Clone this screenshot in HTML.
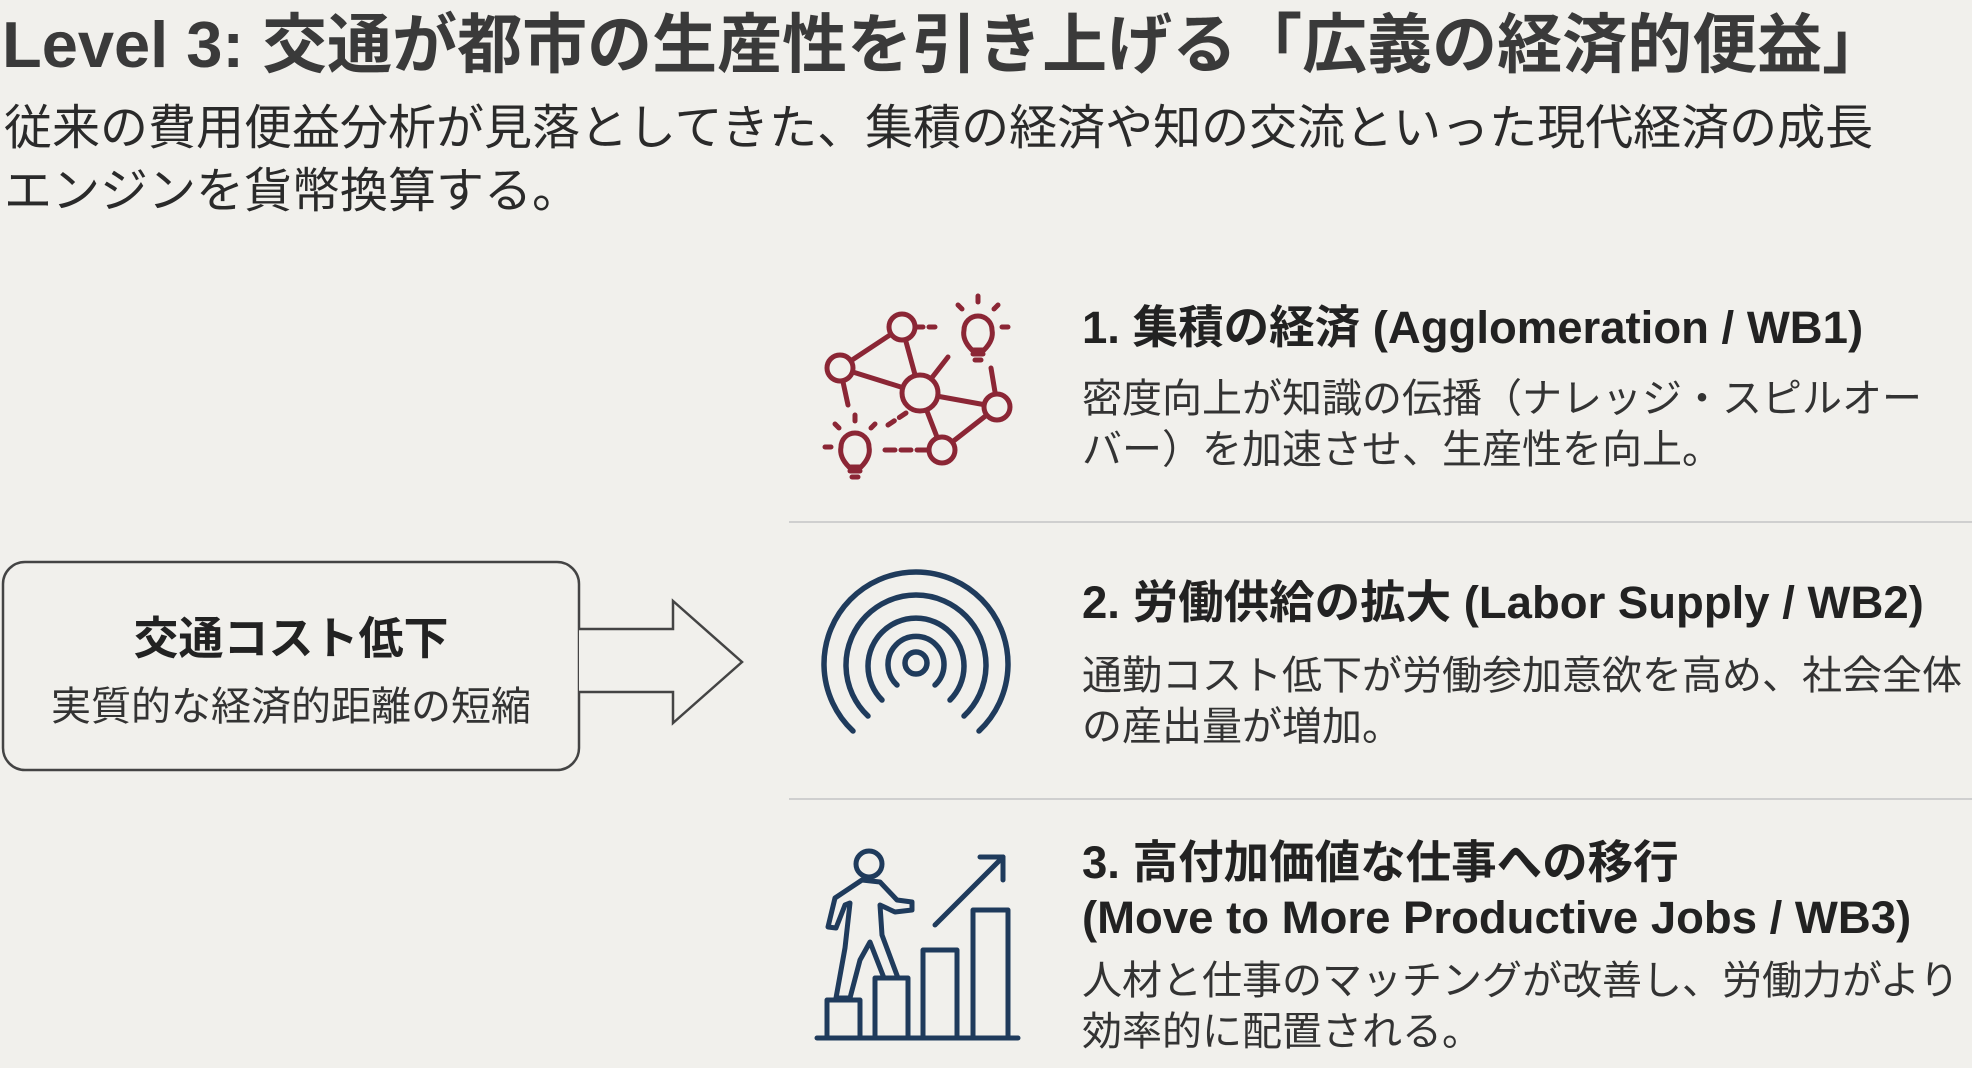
<!DOCTYPE html>
<html><head><meta charset="utf-8"><style>
body{margin:0;width:1972px;height:1068px;background:#f1f0ec;overflow:hidden;font-family:"Liberation Sans","Noto Sans CJK JP",sans-serif;color:#2f2f2f;position:relative}
.a{position:absolute;white-space:nowrap}
h1{position:absolute;left:2px;top:-8px;margin:0;font-size:65px;font-weight:bold;color:#3a3a3a;white-space:nowrap}
.sub{left:4px;top:97px;font-size:48px;line-height:63px;color:#2a2a2a}
.h{font-size:45.5px;font-weight:bold;color:#222;line-height:55px}
.b{font-size:40px;color:#333;line-height:51px}
</style></head><body>
<h1>Level 3: 交通が都市の生産性を引き上げる「広義の経済的便益」</h1>
<div class="a sub">従来の費用便益分析が見落としてきた、集積の経済や知の交流といった現代経済の成長<br>エンジンを貨幣換算する。</div>

<svg class="a" style="left:0;top:0" width="1972" height="1068">
<rect x="3" y="562" width="576" height="208" rx="22" fill="none" stroke="#444" stroke-width="2.5"/>
<path d="M579 629 H673 V601 L742 662 L673 723 V692 H579" fill="#f1f0ec" stroke="#444" stroke-width="2.5" stroke-linejoin="miter"/>
<line x1="789" y1="522" x2="1972" y2="522" stroke="#cfcfcf" stroke-width="2"/>
<line x1="789" y1="799" x2="1972" y2="799" stroke="#cfcfcf" stroke-width="2"/>
<g stroke="#8b2635" stroke-width="5" fill="none" stroke-linecap="round">
<line x1="902" y1="327" x2="840" y2="368"/><line x1="840" y1="368" x2="920" y2="393"/>
<line x1="902" y1="327" x2="920" y2="393"/><line x1="920" y1="393" x2="997" y2="407"/>
<line x1="920" y1="393" x2="942" y2="450"/><line x1="942" y1="450" x2="997" y2="407"/>
<line x1="920" y1="393" x2="948" y2="357"/><line x1="840" y1="368" x2="848" y2="405"/>
<line x1="991" y1="368" x2="995" y2="392"/><line x1="915" y1="327" x2="935" y2="327" stroke-dasharray="8 6"/>
<line x1="885" y1="450" x2="928" y2="450" stroke-dasharray="10 6"/><line x1="906" y1="413" x2="888" y2="425" stroke-dasharray="8 6"/>
<circle cx="920" cy="393" r="18" fill="#f1f0ec"/><circle cx="902" cy="327" r="13" fill="#f1f0ec"/>
<circle cx="840" cy="368" r="13" fill="#f1f0ec"/><circle cx="997" cy="407" r="13" fill="#f1f0ec"/>
<circle cx="942" cy="450" r="13" fill="#f1f0ec"/>
<path d="M972 350 Q962 340 964 330 A14 14 0 1 1 992 330 Q994 340 984 350 Z"/><line x1="973" y1="354" x2="983" y2="354"/><line x1="975" y1="360" x2="981" y2="360"/>
<line x1="978" y1="296" x2="978" y2="302"/><line x1="958" y1="305" x2="962" y2="309"/><line x1="998" y1="305" x2="994" y2="309"/><line x1="1002" y1="327" x2="1008" y2="327"/>
<path d="M849 467 Q839 457 841 447 A14 14 0 1 1 869 447 Q871 457 861 467 Z"/><line x1="850" y1="471" x2="860" y2="471"/><line x1="852" y1="477" x2="858" y2="477"/>
<line x1="855" y1="415" x2="855" y2="421"/><line x1="835" y1="424" x2="839" y2="428"/><line x1="875" y1="424" x2="871" y2="428"/><line x1="825" y1="447" x2="831" y2="447"/>
</g>
<g stroke="#1f3b5c" stroke-width="5.5" fill="none" stroke-linecap="round">
<circle cx="916" cy="663" r="11"/>
<path d="M897 685 A28 28 0 1 1 935 685"/>
<path d="M882 700 A48 48 0 1 1 950 700"/>
<path d="M868 716 A70 70 0 1 1 964 716"/>
<path d="M853 731 A92 92 0 1 1 979 731"/>
</g>
<g stroke="#1f3b5c" stroke-width="5" fill="none" stroke-linecap="round" stroke-linejoin="round">
<line x1="817" y1="1038" x2="1018" y2="1038"/>
<rect x="827" y="1000" width="33" height="38"/><rect x="875" y="978" width="33" height="60"/>
<rect x="923" y="950" width="34" height="88"/><rect x="973" y="910" width="35" height="128"/>
<line x1="935" y1="925" x2="1003" y2="857"/><polyline points="980,857 1003,857 1003,880"/>
<circle cx="869" cy="864" r="13"/>
<path d="M862 880 L835 898 L828 927 L836 928 L845 905 L850 903 L845 948 L836 998 L850 998 L860 960 L870 942 L884 978 L898 978 L882 935 L880 905 L895 912 L912 910 L912 902 L897 900 L880 882 Z"/>
</g>
</svg>

<div class="a" style="left:3px;width:576px;top:602px;text-align:center;font-size:45px;font-weight:bold;color:#222">交通コスト低下</div>
<div class="a" style="left:3px;width:576px;top:674px;text-align:center;font-size:40px;color:#333">実質的な経済的距離の短縮</div>

<div class="a h" style="left:1082px;top:300px">1. 集積の経済 (Agglomeration / WB1)</div>
<div class="a b" style="left:1082px;top:374px">密度向上が知識の伝播（ナレッジ・スピルオー<br>バー）を加速させ、生産性を向上。</div>
<div class="a h" style="left:1082px;top:575px">2. 労働供給の拡大 (Labor Supply / WB2)</div>
<div class="a b" style="left:1082px;top:651px">通勤コスト低下が労働参加意欲を高め、社会全体<br>の産出量が増加。</div>
<div class="a h" style="left:1082px;top:835px">3. 高付加価値な仕事への移行<br>(Move to More Productive Jobs / WB3)</div>
<div class="a b" style="left:1082px;top:956px">人材と仕事のマッチングが改善し、労働力がより<br>効率的に配置される。</div>
</body></html>
